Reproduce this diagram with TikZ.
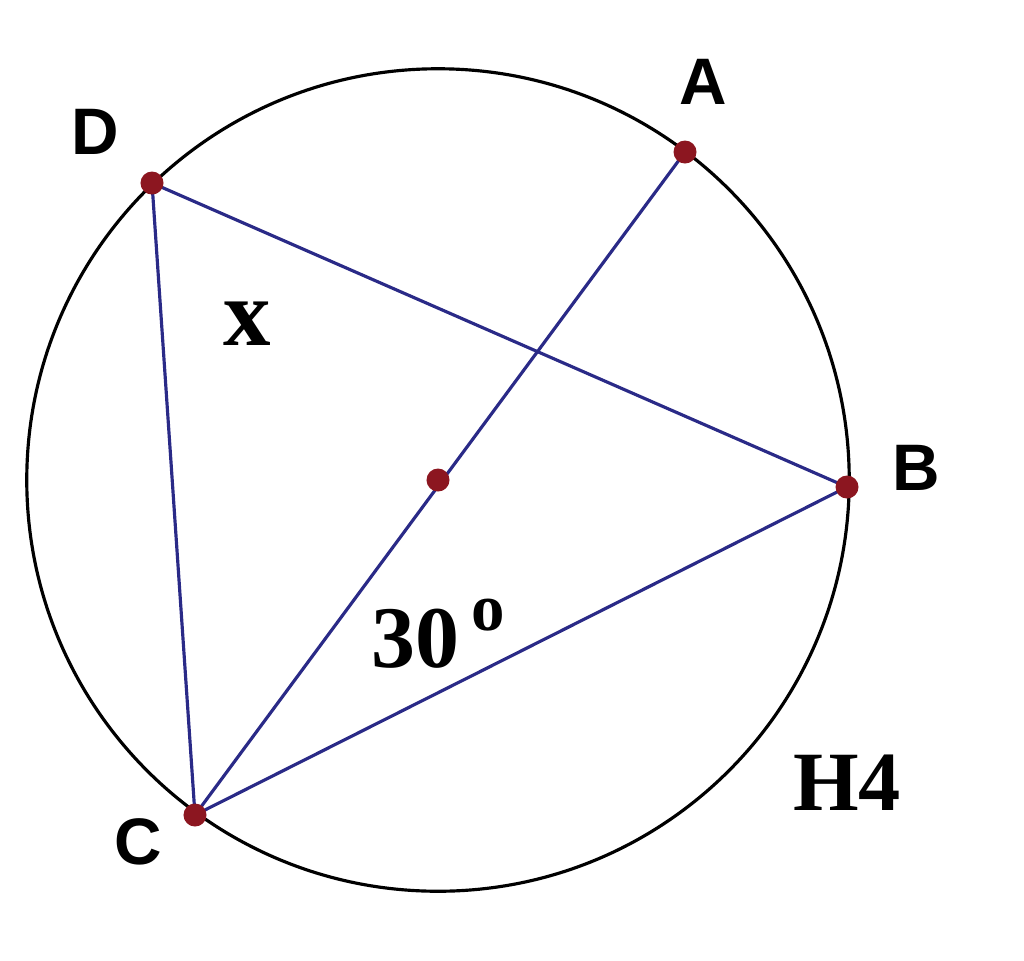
\documentclass[tikz,border=0pt]{standalone}
\usepackage{fontspec}
\setmainfont{Liberation Serif}
\setsansfont{Liberation Sans}
\definecolor{dotred}{RGB}{140,22,32}
\definecolor{chordblue}{RGB}{42,42,135}
\begin{document}
\begin{tikzpicture}[x=0.01cm,y=-0.01cm,
    rim/.style={line width=0.9pt,black},
    chord/.style={line width=0.9pt,chordblue},
    ptlabel/.style={font=\sffamily\bfseries\fontsize{18.7}{20}\selectfont,inner sep=0pt},
    mathlabel/.style={font=\bfseries\fontsize{24}{26}\selectfont,inner sep=0pt}]
  \useasboundingbox (0,0) rectangle (1024,960);
  \coordinate (O) at (438,480);
  \coordinate (A) at (685,152);
  \coordinate (B) at (847,487);
  \coordinate (C) at (195,815);
  \coordinate (D) at (152,183);
  \draw[rim] (O) circle[radius=4.11cm];
  \begin{scope}[chord]
    \draw (D) -- (B);
    \draw (D) -- (C);
    \draw (C) -- (B);
    \draw (C) -- (A);
  \end{scope}
  \foreach \p in {A,B,C,D,O}
    \fill[dotred] (\p) circle[radius=0.115cm];
  \node[ptlabel] (labA) at (703,82) {A};
  \node[ptlabel] (labB) at (916,468) {B};
  \node[ptlabel] (labC) at (138,842) {C};
  \node[ptlabel] (labD) at (95,132) {D};
  \node[mathlabel,font=\bfseries\fontsize{27}{29}\selectfont] (angx) at (247,324) {x};
  \node[mathlabel,font=\bfseries\fontsize{25}{27}\selectfont,anchor=base] (ang30) at (415,667) {30};
  \node[mathlabel,font=\bfseries\fontsize{19}{21}\selectfont] (deg) at (488,615) {o};
  \node[mathlabel] (tag) at (847,783) {H4};
\end{tikzpicture}
\end{document}
